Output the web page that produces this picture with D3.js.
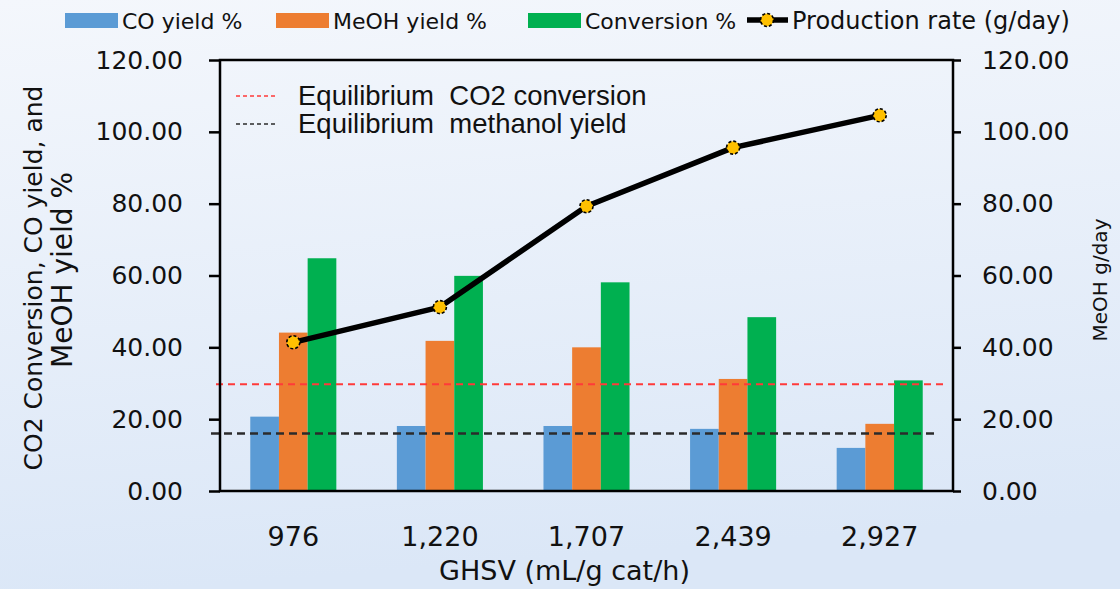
<!DOCTYPE html>
<html>
<head>
<meta charset="utf-8">
<script src="https://cdn.jsdelivr.net/npm/d3@7"></script>
<style>
  body { margin: 0; }
  svg { display: block; }
</style>
</head>
<body>
<div id="chart"></div>
<script>
// chart data
var categories = ["976", "1,220", "1,707", "2,439", "2,927"];
var seriesNames = ["CO yield %", "MeOH yield %", "Conversion %"];
var coYield = [20.7, 18.1, 18.1, 17.3, 12.0];
var meohYield = [44.1, 41.8, 40.0, 31.2, 18.7];
var conversion = [64.8, 59.9, 58.1, 48.4, 30.8];
var productionRate = [41.4, 51.2, 79.3, 95.6, 104.6];
var eqCO2Conversion = 29.7;
var eqMethanolYield = 16.0;
var yTicks = [0, 20, 40, 60, 80, 100, 120];

var colors = ["#5B9BD5", "#ED7D31", "#00B050"];
var font = "'DejaVu Sans', sans-serif";

// dimensions
var W = 1120, H = 589;
var margin = {top: 60, right: 167, bottom: 98, left: 220},
    width = W - margin.left - margin.right,
    height = H - margin.top - margin.bottom;

var root = d3.select("#chart").append("svg")
  .attr("width", W)
  .attr("height", H);

// background gradient
var grad = root.append("defs").append("linearGradient")
  .attr("id", "bg").attr("x1", 0).attr("y1", 0).attr("x2", 0.15).attr("y2", 1);
grad.append("stop").attr("offset", "0%").attr("stop-color", "#f4f7fc");
grad.append("stop").attr("offset", "100%").attr("stop-color", "#dbe7f7");
root.append("rect").attr("width", W).attr("height", H).attr("fill", "url(#bg)");

var svg = root.append("g")
  .attr("transform", "translate(" + margin.left + "," + margin.top + ")");

// scales
var x0 = d3.scaleBand()
  .domain(categories)
  .range([0, width])
  .paddingInner(0.413)
  .paddingOuter(0.2065);

var x1 = d3.scaleBand()
  .domain(seriesNames)
  .range([0, x0.bandwidth()]);

var y = d3.scaleLinear().domain([0, 120]).range([height, 0]);
var y2 = d3.scaleLinear().domain([0, 120]).range([height, 0]);

// table for grouped bars
var table = categories.map(function(c, i) {
  return {cat: c, values: [coYield[i], meohYield[i], conversion[i]]};
});

var groups = svg.selectAll(".grp")
  .data(table)
  .enter().append("g")
  .attr("class", "grp")
  .attr("transform", function(d) { return "translate(" + x0(d.cat) + ",0)"; });

groups.selectAll("rect")
  .data(function(d) { return d.values.map(function(v, j) { return {key: seriesNames[j], value: v, j: j}; }); })
  .enter().append("rect")
  .attr("x", function(d) { return x1(d.key); })
  .attr("y", function(d) { return y(d.value); })
  .attr("width", x1.bandwidth())
  .attr("height", function(d) { return height - y(d.value); })
  .attr("fill", function(d) { return colors[d.j]; });

// equilibrium lines
svg.append("line")
  .attr("x1", -4).attr("x2", width - 10)
  .attr("y1", y(eqCO2Conversion)).attr("y2", y(eqCO2Conversion))
  .attr("stroke", "#ff3a3a").attr("stroke-width", 2)
  .attr("stroke-dasharray", "7,5");
svg.append("line")
  .attr("x1", -9).attr("x2", width - 14)
  .attr("y1", y(eqMethanolYield)).attr("y2", y(eqMethanolYield))
  .attr("stroke", "#2b2b2b").attr("stroke-width", 2.5)
  .attr("stroke-dasharray", "8,5");

// production rate line (right axis)
var line = d3.line()
  .x(function(d, i) { return x0(categories[i]) + x0.bandwidth() / 2; })
  .y(function(d) { return y2(d); });

svg.append("path")
  .datum(productionRate)
  .attr("d", line)
  .attr("fill", "none")
  .attr("stroke", "#000")
  .attr("stroke-width", 5.5)
  .attr("stroke-linejoin", "round");

svg.selectAll(".pt")
  .data(productionRate)
  .enter().append("circle")
  .attr("class", "pt")
  .attr("cx", function(d, i) { return x0(categories[i]) + x0.bandwidth() / 2; })
  .attr("cy", function(d) { return y2(d); })
  .attr("r", 6.5)
  .attr("fill", "#FFC000")
  .attr("stroke", "#000")
  .attr("stroke-width", 1.6)
  .attr("stroke-dasharray", "3,2");

// plot frame
svg.append("rect")
  .attr("width", width).attr("height", height)
  .attr("fill", "none").attr("stroke", "#000").attr("stroke-width", 2.5);

// left axis
var yAxis = svg.append("g")
  .call(d3.axisLeft(y).tickValues(yTicks).tickSize(11).tickSizeOuter(0).tickPadding(26).tickFormat(d3.format(".2f")));
yAxis.select(".domain").remove();
yAxis.selectAll(".tick line").attr("stroke", "#000").attr("stroke-width", 2.5);
yAxis.selectAll("text").style("font-family", font).style("font-size", "25px").attr("fill", "#111");

// right axis
var yAxisR = svg.append("g")
  .attr("transform", "translate(" + width + ",0)")
  .call(d3.axisRight(y2).tickValues(yTicks).tickSize(8).tickSizeOuter(0).tickPadding(21).tickFormat(d3.format(".2f")));
yAxisR.select(".domain").remove();
yAxisR.selectAll(".tick line").attr("stroke", "#000").attr("stroke-width", 2.5);
yAxisR.selectAll("text").style("font-family", font).style("font-size", "25px").attr("fill", "#111");

// x axis
var xAxis = svg.append("g")
  .attr("transform", "translate(0," + height + ")")
  .call(d3.axisBottom(x0).tickSize(0).tickPadding(36));
xAxis.select(".domain").remove();
xAxis.selectAll("text").style("font-family", font).style("font-size", "27px").attr("fill", "#111");

// axis titles
root.append("text")
  .attr("x", margin.left + width / 2 - 22)
  .attr("y", 580)
  .attr("text-anchor", "middle")
  .style("font-family", font).style("font-size", "27px").attr("fill", "#111")
  .text("GHSV (mL/g cat/h)");

root.append("text")
  .attr("transform", "translate(42,278) rotate(-90)")
  .attr("text-anchor", "middle")
  .style("font-family", font).style("font-size", "25px").attr("fill", "#111")
  .text("CO2 Conversion, CO yield, and");

root.append("text")
  .attr("transform", "translate(72,270) rotate(-90)")
  .attr("text-anchor", "middle")
  .style("font-family", font).style("font-size", "28px").attr("fill", "#111")
  .text("MeOH yield %");

root.append("text")
  .attr("transform", "translate(1107,280) rotate(-90)")
  .attr("text-anchor", "middle")
  .style("font-family", font).style("font-size", "20px").attr("fill", "#111")
  .text("MeOH g/day");

// inside legend for equilibrium lines
var eqLegend = [
  {label: "Equilibrium  CO2 conversion", color: "#ff3a3a", y: 96},
  {label: "Equilibrium  methanol yield", color: "#2b2b2b", y: 124}
];
eqLegend.forEach(function(d) {
  root.append("line")
    .attr("x1", 236).attr("x2", 278).attr("y1", d.y).attr("y2", d.y)
    .attr("stroke", d.color).attr("stroke-width", 1.5).attr("stroke-dasharray", "4,3");
  root.append("text")
    .attr("x", 298).attr("y", d.y + 9)
    .attr("xml:space", "preserve")
    .style("white-space", "pre")
    .style("font-family", "'Liberation Sans', Arial, sans-serif").style("font-size", "27.5px").attr("fill", "#111")
    .text(d.label);
});

// top legend
var legendX = [65, 276, 528];
seriesNames.forEach(function(name, i) {
  root.append("rect")
    .attr("x", legendX[i]).attr("y", 13).attr("width", 53).attr("height", 15)
    .attr("fill", colors[i]);
  root.append("text")
    .attr("x", legendX[i] + 57).attr("y", 29)
    .style("font-family", font).style("font-size", "22px").attr("fill", "#111")
    .text(name);
});
root.append("line")
  .attr("x1", 747).attr("x2", 788).attr("y1", 20).attr("y2", 20)
  .attr("stroke", "#000").attr("stroke-width", 5.5);
root.append("circle")
  .attr("cx", 767).attr("cy", 20).attr("r", 6.5)
  .attr("fill", "#FFC000").attr("stroke", "#000")
  .attr("stroke-width", 1.6).attr("stroke-dasharray", "3,2");
root.append("text")
  .attr("x", 792).attr("y", 29)
  .style("font-family", font).style("font-size", "24px").attr("fill", "#111")
  .text("Production rate (g/day)");
</script>
</body>
</html>
